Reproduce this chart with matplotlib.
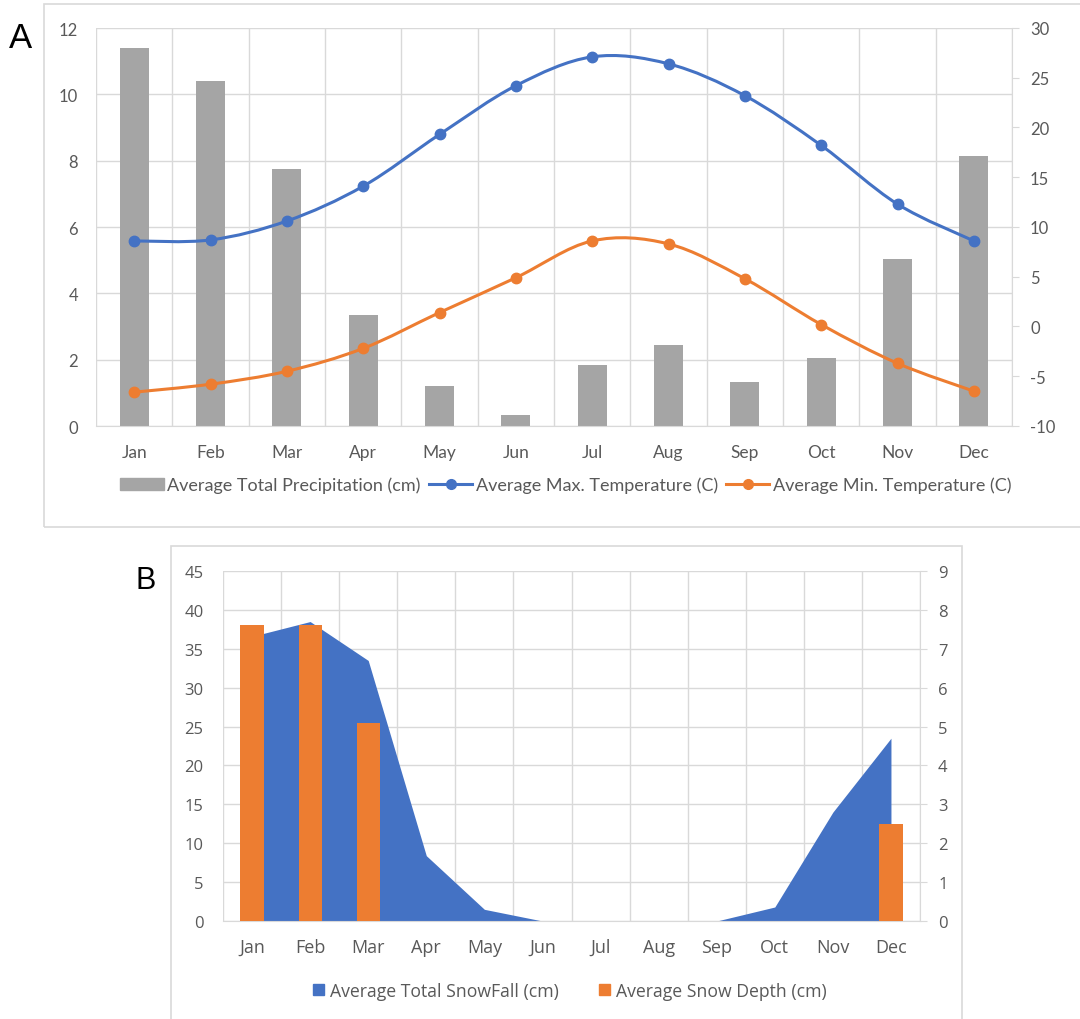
import matplotlib.pyplot as plt
from matplotlib.path import Path
from matplotlib.patches import PathPatch, Patch, Rectangle
from matplotlib.lines import Line2D
import numpy as np

months = ['Jan', 'Feb', 'Mar', 'Apr', 'May', 'Jun', 'Jul', 'Aug', 'Sep', 'Oct', 'Nov', 'Dec']

# panel A
precip = [11.4, 10.4, 7.75, 3.35, 1.2, 0.33, 1.85, 2.45, 1.32, 2.05, 5.05, 8.15]
tmax = [8.6, 8.7, 10.6, 14.1, 19.3, 24.2, 27.1, 26.4, 23.2, 18.2, 12.3, 8.6]
tmin = [-6.6, -5.8, -4.5, -2.2, 1.4, 4.9, 8.6, 8.3, 4.8, 0.2, -3.7, -6.5]

# panel B
snowfall = [36.6, 38.5, 33.5, 8.4, 1.5, 0, 0, 0, 0, 1.8, 14.0, 23.5]
snowdepth = [7.6, 7.6, 5.1, 0, 0, 0, 0, 0, 0, 0, 0, 2.5]

BLUE = '#4472C4'
ORANGE = '#ED7D31'
GRAY = '#A5A5A5'
GRID = '#D9D9D9'
TXT = '#595959'

W, H = 1080, 1020
fig = plt.figure(figsize=(W / 100, H / 100), dpi=100)


def box(x0, y0, x1, y1):
    # rectangle in pixel coords (top-left origin)
    return [x0 / W, 1 - y1 / H, (x1 - x0) / W, (y1 - y0) / H]


def smooth(x, y):
    # Excel style smoothed line as bezier path
    n = len(x)
    verts = [(x[0], y[0])]
    codes = [Path.MOVETO]
    for i in range(n - 1):
        a = max(i - 1, 0)
        b = min(i + 2, n - 1)
        c1 = (x[i] + (x[i + 1] - x[a]) / 6, y[i] + (y[i + 1] - y[a]) / 6)
        c2 = (x[i + 1] - (x[b] - x[i]) / 6, y[i + 1] - (y[b] - y[i]) / 6)
        verts += [c1, c2, (x[i + 1], y[i + 1])]
        codes += [Path.CURVE4] * 3
    return Path(verts, codes)


def cat_axis(ax, fs, font, pad):
    ax.set_xlim(-0.5, 11.5)
    ax.set_xticks(range(12))
    ax.set_xticklabels(months, fontsize=fs, color=TXT, family=font)
    ax.set_xticks(np.arange(-0.5, 12, 1), minor=True)
    ax.tick_params(axis='x', which='both', length=0, pad=pad)
    ax.grid(True, which='minor', axis='x', color=GRID, lw=1)
    ax.grid(True, which='major', axis='y', color=GRID, lw=1)
    ax.set_axisbelow(True)
    for s in ['top', 'right', 'left']:
        ax.spines[s].set_visible(False)
    ax.spines['bottom'].set_color(GRID)


# frames around the panels
fig.add_artist(Rectangle((44 / W, 1 - 528 / H), 1.1, (528 - 5) / H, transform=fig.transFigure,
                         fill=False, ec=GRID, lw=1.2))
fig.add_artist(Rectangle((171 / W, -0.1), (962 - 171) / W, 0.1 + (1020 - 547) / H,
                         transform=fig.transFigure, fill=False, ec=GRID, lw=1.2))

fA = 'Lato'
x = np.arange(12)
ax1 = fig.add_axes(box(96, 29, 1012, 427))
ax1.bar(x, precip, width=0.38, color=GRAY, zorder=2)
ax1.set_ylim(0, 12)
ax1.set_yticks(range(0, 13, 2))
ax1.set_yticklabels([str(v) for v in range(0, 13, 2)], fontsize=12, color=TXT, family=fA)
ax1.tick_params(axis='y', length=0, pad=13)
cat_axis(ax1, 12.5, fA, 13)

ax2 = ax1.twinx()
ax2.set_ylim(-10, 30)
ax2.set_yticks(range(-10, 31, 5))
ax2.set_yticklabels([str(v) for v in range(-10, 31, 5)], fontsize=12, color=TXT, family=fA)
ax2.tick_params(axis='y', length=5, color=GRID, pad=8)
for s in ['top', 'left', 'bottom']:
    ax2.spines[s].set_visible(False)
ax2.spines['right'].set_color(GRID)
for ys, c in [(tmax, BLUE), (tmin, ORANGE)]:
    ax2.add_patch(PathPatch(smooth(x, ys), fill=False, ec=c, lw=2.2, zorder=3))
    ax2.plot(x, ys, 'o', color=c, ms=7.5, zorder=4)

hA = [Patch(color=GRAY),
      Line2D([], [], color=BLUE, marker='o', ms=7, lw=2.2),
      Line2D([], [], color=ORANGE, marker='o', ms=7, lw=2.2)]
fig.legend(hA, ['Average Total Precipitation (cm)', 'Average Max. Temperature (C)',
                'Average Min. Temperature (C)'],
           loc='center', bbox_to_anchor=(566 / W, 1 - 486 / H), ncol=3, frameon=False,
           prop={'family': fA, 'size': 13}, labelcolor=TXT, handlelength=2.4,
           handleheight=0.7, handletextpad=0.2, columnspacing=0.45)

fig.text(9 / W, 1 - 48 / H, 'A', fontsize=25, family='Liberation Sans', va='baseline')

# panel B
fB = 'Open Sans'
ax3 = fig.add_axes(box(223, 572, 920, 922))
ax3.fill_between(x, snowfall, 0, color=BLUE, lw=0, zorder=2)
ax3.set_ylim(0, 45)
ax3.set_yticks(range(0, 46, 5))
ax3.set_yticklabels([str(v) for v in range(0, 46, 5)], fontsize=12, color=TXT, family=fB)
ax3.tick_params(axis='y', length=0, pad=14)
cat_axis(ax3, 13, fB, 12)

ax4 = ax3.twinx()
ax4.bar(x, snowdepth, width=0.4, color=ORANGE, zorder=3)
ax4.set_ylim(0, 9)
ax4.set_yticks(range(0, 10))
ax4.set_yticklabels([str(v) for v in range(0, 10)], fontsize=12, color=TXT, family=fB)
ax4.tick_params(axis='y', length=5, color=GRID, pad=8)
for s in ['top', 'left', 'bottom']:
    ax4.spines[s].set_visible(False)
ax4.spines['right'].set_color(GRID)

hB = [Patch(color=BLUE), Patch(color=ORANGE)]
fig.legend(hB, ['Average Total SnowFall (cm)', 'Average Snow Depth (cm)'],
           loc='center', bbox_to_anchor=(570 / W, 1 - 992 / H), ncol=2, frameon=False,
           prop={'family': fB, 'size': 12.7}, labelcolor=TXT, handlelength=0.6,
           handleheight=0.6, handletextpad=0.35, columnspacing=2.3)

fig.text(136 / W, 1 - 589 / H, 'B', fontsize=22, family='Liberation Sans', va='baseline')

fig.savefig('out.png', dpi=100)
